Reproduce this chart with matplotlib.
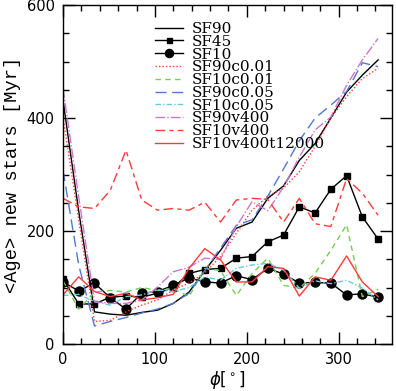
import numpy as np
import matplotlib
matplotlib.use('Agg')
import matplotlib.pyplot as plt
from matplotlib.ticker import MultipleLocator

# azimuth bins (21 bins over 360 deg)
phi = np.arange(21) * 360.0 / 21

sf90 = [432, 235, 57, 53, 51, 56, 60, 72, 92, 130, 166, 205, 216, 258, 280, 325, 355, 400, 446, 476, 503]
sf45 = [115, 71, 71, 83, 85, 83, 90, 100, 125, 132, 134, 152, 155, 181, 193, 243, 232, 274, 298, 225, 186]
sf10 = [110, 94, 108, 82, 62, 90, 93, 104, 117, 110, 108, 121, 114, 134, 124, 108, 109, 108, 87, 89, 83]
sf90c001 = [402, 220, 40, 42, 57, 69, 78, 96, 108, 126, 155, 196, 237, 262, 276, 305, 350, 400, 438, 470, 488]
sf10c001 = [112, 62, 92, 95, 92, 100, 95, 98, 84, 134, 130, 86, 125, 152, 104, 99, 125, 166, 211, 84, 97]
sf90c005 = [308, 140, 32, 40, 47, 55, 62, 72, 90, 130, 170, 210, 220, 262, 310, 360, 400, 423, 447, 498, 491]
sf10c005 = [86, 88, 75, 69, 84, 87, 96, 93, 100, 119, 113, 134, 140, 143, 131, 99, 112, 107, 113, 99, 78]
sf90v400 = [453, 260, 75, 72, 72, 78, 101, 128, 136, 152, 150, 208, 252, 236, 278, 331, 379, 402, 458, 503, 541]
sf10v400 = [258, 243, 240, 272, 343, 255, 237, 240, 237, 251, 216, 255, 258, 256, 216, 258, 213, 208, 293, 267, 228]
sf10v400t = [87, 119, 93, 84, 90, 78, 82, 88, 134, 169, 149, 110, 110, 137, 134, 85, 119, 113, 156, 110, 84]

red = '#ff3a3a'

fig = plt.figure(figsize=(3.96, 3.91), dpi=100)
ax = fig.add_axes([0.159, 0.120, 0.831, 0.867])

ax.plot(phi, sf90, color='k', lw=1.0, label='SF90')
ax.plot(phi, sf45, color='k', lw=1.0, marker='s', ms=4, label='SF45')
ax.plot(phi, sf10, color='k', lw=1.0, marker='o', ms=6.5, label='SF10')
ax.plot(phi, sf90c001, color=red, lw=1.0, ls=(0, (1, 1.5)), label='SF90c0.01')
ax.plot(phi, sf10c001, color='#77cc55', lw=1.0, ls=(0, (4, 3)), label='SF10c0.01')
ax.plot(phi, sf90c005, color='#5577cc', lw=1.0, ls=(0, (8, 4)), label='SF90c0.05')
ax.plot(phi, sf10c005, color='#66ccdd', lw=1.0, ls=(0, (4, 1.5, 1, 1.5)), label='SF10c0.05')
ax.plot(phi, sf90v400, color='#cc77cc', lw=1.0, ls=(0, (7, 1.5, 1, 1.5)), label='SF90v400')
ax.plot(phi, sf10v400, color=red, lw=1.0, ls=(0, (7, 3, 3, 3)), label='SF10v400')
ax.plot(phi, sf10v400t, color=red, lw=1.0, label='SF10v400t12000')

ax.set_xlim(0, 358)
ax.set_ylim(0, 600)
ax.xaxis.set_major_locator(MultipleLocator(100))
ax.xaxis.set_minor_locator(MultipleLocator(20))
ax.yaxis.set_major_locator(MultipleLocator(200))
ax.yaxis.set_minor_locator(MultipleLocator(50))
ax.tick_params(which='both', direction='in', top=True, right=True, width=1)
ax.tick_params(which='major', length=8.5, labelsize=10.5, pad=6)
ax.tick_params(which='minor', length=4)
for s in ax.spines.values():
    s.set_linewidth(1.0)

ax.set_xlabel(r'$\phi[^\circ]$', fontsize=12, labelpad=1)
ax.set_ylabel('<Age> new stars [Myr]', family='Liberation Mono', fontsize=13.5, labelpad=4)

ax.legend(loc='upper left', bbox_to_anchor=(0.28, 0.95), frameon=False,
          prop={'family': 'DejaVu Serif', 'size': 11}, labelspacing=-0.08,
          handlelength=1.8, handletextpad=0.6, borderpad=0, borderaxespad=0,
          markerscale=0.9)

fig.savefig('out.png', dpi=100)
